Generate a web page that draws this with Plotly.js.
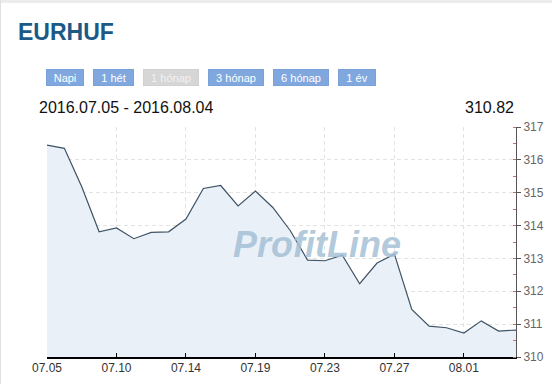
<!DOCTYPE html>
<html>
<head>
<meta charset="utf-8">
<script src="https://cdn.plot.ly/plotly-3.0.1.min.js"></script>
<style>
html,body{margin:0;padding:0;background:#fff;}
#chart{width:552px;height:384px;}
</style>
</head>
<body>
<div id="chart"></div>
<script>
// ---- data ----
var dates = ["07.05","07.06","07.07","07.08","07.10","07.11","07.12","07.13","07.14","07.15",
             "07.17","07.18","07.19","07.20","07.21","07.22","07.23","07.24","07.25","07.26",
             "07.27","07.28","07.29","07.31","08.01","08.02","08.03","08.04"];
var rates = [316.45,316.35,315.18,313.81,313.93,313.60,313.79,313.81,314.20,315.13,
             315.22,314.60,315.05,314.55,313.85,312.95,312.93,313.10,312.23,312.86,
             313.13,311.45,310.94,310.89,310.73,311.10,310.79,310.82];
var tickLabels = ["07.05","07.10","07.14","07.19","07.23","07.27","08.01"];
var yTicks = [310,311,312,313,314,315,316,317];
var titleText = "EURHUF";
var rangeText = "2016.07.05 - 2016.08.04";
var lastText = "310.82";
var buttons = ["Napi","1 hét","1 hónap","3 hónap","6 hónap","1 év"];

// ---- layout helpers (pixels -> paper) ----
var L = 47, R = 516, T = 127, B = 357, W = 552, H = 384;
function px(x){ return (x - L) / (R - L); }
function py(y){ return (B - y) / (B - T); }

var btnGeom = [[46,84],[93,134],[143,199],[208,264],[273,329],[338,376]];
var annotations = [];
buttons.forEach(function(b, i){
  var g = btnGeom[i];
  var disabled = (b === "1 hónap");
  annotations.push({
    text: b, xref:'paper', yref:'paper',
    x: px((g[0]+g[1])/2), y: py(78), xanchor:'center', yanchor:'middle',
    showarrow:false, width: g[1]-g[0]-2, height: 15,
    bgcolor: disabled ? '#d6d6d6' : '#80a8de',
    bordercolor: disabled ? '#d0d0d0' : '#7aa2d8', borderwidth:1, borderpad:0,
    font:{family:'Liberation Sans, Arial, sans-serif', size:11, color: disabled ? '#f2f2f2' : '#ffffff'}
  });
});
annotations.push({
  text: '<b>' + titleText + '</b>', xref:'paper', yref:'paper',
  x: px(16), y: py(32), xanchor:'left', yanchor:'middle', showarrow:false,
  font:{family:'Liberation Sans, Arial, sans-serif', size:23, color:'#1b5a86'}
});
annotations.push({
  text: rangeText, xref:'paper', yref:'paper',
  x: px(37), y: py(107), xanchor:'left', yanchor:'middle', showarrow:false,
  font:{family:'Liberation Sans, Arial, sans-serif', size:16, color:'#111'}
});
annotations.push({
  text: lastText, xref:'paper', yref:'paper',
  x: px(516), y: py(107), xanchor:'right', yanchor:'middle', showarrow:false,
  font:{family:'Liberation Sans, Arial, sans-serif', size:16, color:'#111'}
});
annotations.push({
  text: '<b><i>ProfitLine</i></b>', xref:'paper', yref:'paper',
  x: px(317), y: py(244), xanchor:'center', yanchor:'middle', showarrow:false,
  font:{family:'Liberation Sans, Arial, sans-serif', size:36, color:'rgba(165,192,214,0.85)'}
});

var trace = {
  x: dates, y: rates, type:'scatter', mode:'lines',
  line:{color:'#3e5366', width:1.2},
  fill:'tozeroy', fillcolor:'#e9f0f7',
  hoverinfo:'x+y'
};

var layout = {
  width: W, height: H,
  margin:{l:L, r:W-R, t:T, b:H-B, pad:0},
  paper_bgcolor:'#ffffff', plot_bgcolor:'#ffffff',
  showlegend:false,
  xaxis:{
    type:'category', range:[0, dates.length-1],
    tickmode:'array', tickvals: tickLabels, ticktext: tickLabels,
    showgrid:true, gridcolor:'#e3e3e3', griddash:'4px,3px', gridwidth:1,
    showline:true, linecolor:'#000', linewidth:1.5,
    ticks:'inside', ticklen:4, tickcolor:'#000', ticklabelstandoff:-1,
    tickfont:{family:'Liberation Sans, Arial, sans-serif', size:12, color:'#333'},
    zeroline:false, fixedrange:true
  },
  yaxis:{
    side:'right', range:[310,317],
    tickmode:'array', tickvals: yTicks, ticktext: yTicks.map(String),
    showgrid:true, gridcolor:'#e3e3e3', griddash:'4px,3px', gridwidth:1,
    showline:true, linecolor:'#555', linewidth:1,
    ticks:'outside', ticklen:4, tickcolor:'#555',
    minor:{dtick:0.5, tick0:310, ticks:'inside', ticklen:3, tickcolor:'#c07070', showgrid:false},
    tickfont:{family:'Liberation Sans, Arial, sans-serif', size:12, color:'#666'},
    zeroline:false, fixedrange:true
  },
  shapes:[
    {type:'rect', xref:'paper', yref:'paper', x0:px(0), x1:px(W), y0:py(3), y1:py(0),
     fillcolor:'#ececec', line:{width:0}, layer:'below'},
    {type:'line', xref:'paper', yref:'paper', x0:px(0.5), x1:px(0.5), y0:py(H), y1:py(0),
     line:{color:'#e0e0e0', width:1}}
  ],
  annotations: annotations
};

Plotly.newPlot('chart', [trace], layout, {displayModeBar:false, staticPlot:true});
</script>
</body>
</html>
